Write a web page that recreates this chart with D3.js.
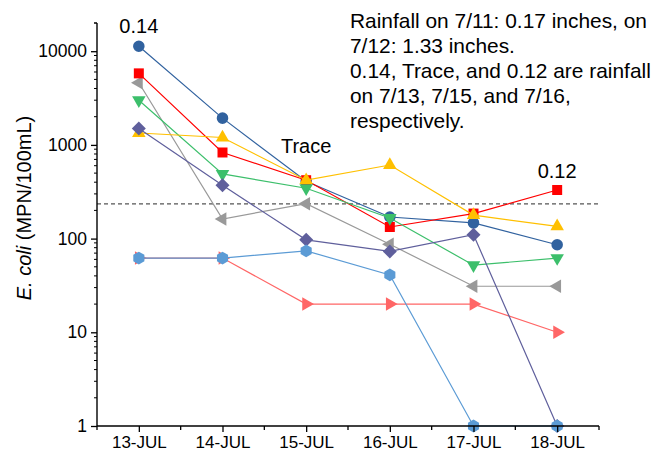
<!DOCTYPE html>
<html>
<head>
<meta charset="utf-8">
<script src="https://cdn.jsdelivr.net/npm/d3@7/dist/d3.min.js"></script>
<style>
  html, body { margin: 0; padding: 0; background: #fff; }
  svg { display: block; font-family: "Liberation Sans", Arial, sans-serif; }
</style>
</head>
<body>
<svg id="chart" width="658" height="455"></svg>
<script>
// Sampling dates
const dates = ["13-JUL", "14-JUL", "15-JUL", "16-JUL", "17-JUL", "18-JUL"];

// E. coli counts (MPN/100mL) per sampling site
const siteCircle   = [11300, 1930, 410, 170, 147, 86];
const siteSquare   = [5800, 830, 420, 133, 185, 330];
const siteTriUp    = [1340, 1200, 420, 610, 178, 135];
const siteTriDown  = [3000, 490, 345, 166, 52, 62];
const siteDiamond  = [1500, 370, 97, 73, 110, 1];
const siteTriLeft  = [4600, 162, 236, 87, 31, 31];
const siteHexagon  = [62, 62, 74, 41, 1, 1];
const siteTriRight = [62, 62, 20, 20, 20, 10];

// Recreational water quality threshold
const threshold = 235;

// Rainfall notes placed above certain dates
const rainDates  = ["13-JUL", "15-JUL", "18-JUL"];
const rainLabels = ["0.14", "Trace", "0.12"];
const rainLevels = [15600, 820, 443];

const noteLines = [
  "Rainfall on 7/11: 0.17 inches, on",
  "7/12: 1.33 inches.",
  "0.14, Trace, and 0.12 are rainfall",
  "on 7/13, 7/15, and 7/16,",
  "respectively."
];

const yMajorTicks = [1, 10, 100, 1000, 10000];

// drawing order: later series sit on top
const series = [
  { values: siteTriRight, color: "#ff6666", shape: "triRight" },
  { values: siteTriLeft,  color: "#999999", shape: "triLeft" },
  { values: siteCircle,   color: "#31629f", shape: "circle" },
  { values: siteSquare,   color: "#ff0000", shape: "square" },
  { values: siteTriDown,  color: "#3cbf6b", shape: "triDown" },
  { values: siteTriUp,    color: "#ffc000", shape: "triUp" },
  { values: siteDiamond,  color: "#5f5f9c", shape: "diamond" },
  { values: siteHexagon,  color: "#5b9bd5", shape: "hexagon" }
];

const svg = d3.select("#chart");
const plotLeft = 97, plotRight = 599, plotTop = 23, plotBottom = 426;

const x = d3.scalePoint().domain(dates).range([plotLeft, plotRight]).padding(0.5);
const y = d3.scaleLog().domain([1, 20000]).range([plotBottom, plotTop]);

// marker paths centred on the origin
function polygon(n, r, rot) {
  const pts = d3.range(n).map(i => {
    const a = rot + i * 2 * Math.PI / n;
    return [r * Math.cos(a), r * Math.sin(a)];
  });
  return "M" + pts.map(p => p.join(",")).join("L") + "Z";
}
const markerPath = {
  circle:   () => d3.symbol(d3.symbolCircle, 105)(),
  square:   () => "M-5,-5H5V5H-5Z",
  triUp:    () => polygon(3, 7.8, -Math.PI / 2),
  triDown:  () => polygon(3, 7.8, Math.PI / 2),
  triLeft:  () => polygon(3, 7.8, Math.PI),
  triRight: () => polygon(3, 7.8, 0),
  diamond:  () => "M0,-7L7,0L0,7L-7,0Z",
  hexagon:  () => polygon(6, 6.4, Math.PI / 6)
};

// threshold line
svg.append("line")
  .attr("x1", plotLeft).attr("x2", plotRight)
  .attr("y1", y(threshold)).attr("y2", y(threshold))
  .attr("stroke", "#555").attr("stroke-width", 1.3)
  .attr("stroke-dasharray", "4,3");

// series lines and markers
const line = d3.line().x((d, i) => x(dates[i])).y(d => y(d));
series.forEach(s => {
  const g = svg.append("g");
  g.append("path")
    .attr("d", line(s.values))
    .attr("fill", "none")
    .attr("stroke", s.color)
    .attr("stroke-width", 1.2);
  g.selectAll("path.m").data(s.values).join("path")
    .attr("class", "m")
    .attr("d", markerPath[s.shape]())
    .attr("transform", (d, i) => `translate(${x(dates[i])},${y(d)})`)
    .attr("fill", s.color);
});

// x axis
const xAxis = svg.append("g")
  .attr("transform", `translate(0,${plotBottom})`)
  .call(d3.axisBottom(x).tickSizeOuter(0).tickSize(6).tickPadding(4));
xAxis.select(".domain").attr("d", `M${plotLeft},0H${plotRight}`).attr("stroke-width", 1.4);
xAxis.selectAll(".tick line").attr("stroke-width", 1.3);
xAxis.selectAll(".tick text").attr("font-size", 17).attr("fill", "#000");
const halfStep = x.step() / 2;
const xMinor = dates.map(d => x(d) - halfStep).concat([x(dates[dates.length - 1]) + halfStep]);
xAxis.selectAll("line.minor").data(xMinor).join("line")
  .attr("class", "minor")
  .attr("x1", d => d).attr("x2", d => d)
  .attr("y1", 0).attr("y2", 4)
  .attr("stroke", "#000").attr("stroke-width", 1.3);

// y axis
const yAxis = svg.append("g")
  .attr("transform", `translate(${plotLeft},0)`)
  .call(d3.axisLeft(y).tickValues(yMajorTicks).tickFormat(d3.format("d"))
    .tickSize(6).tickSizeOuter(0).tickPadding(4));
yAxis.select(".domain").attr("d", `M0,${plotTop}V${plotBottom}`).attr("stroke-width", 1.4);
yAxis.selectAll(".tick line").attr("stroke-width", 1.3);
yAxis.selectAll(".tick text").attr("font-size", 17.5).attr("fill", "#000");
const yMinor = y.ticks().filter(v => !yMajorTicks.includes(v)).concat([20000]);
yAxis.selectAll("line.minor").data(yMinor).join("line")
  .attr("class", "minor")
  .attr("x1", -3).attr("x2", 0)
  .attr("y1", d => y(d)).attr("y2", d => y(d))
  .attr("stroke", "#000").attr("stroke-width", 1);

// y axis title
const yTitle = svg.append("text")
  .attr("transform", `translate(31,208) rotate(-90)`)
  .attr("text-anchor", "middle")
  .attr("font-size", 20)
  .attr("fill", "#000");
yTitle.append("tspan").attr("font-style", "italic").text("E. coli");
yTitle.append("tspan").text(" (MPN/100mL)");

// rainfall labels over dates
svg.selectAll("text.rain").data(rainLabels).join("text")
  .attr("class", "rain")
  .attr("x", (d, i) => x(rainDates[i]))
  .attr("y", (d, i) => y(rainLevels[i]))
  .attr("text-anchor", "middle")
  .attr("font-size", 20)
  .attr("fill", "#000")
  .text(d => d);

// rainfall note
svg.append("text")
  .attr("font-size", 20.9)
  .attr("fill", "#000")
  .selectAll("tspan").data(noteLines).join("tspan")
  .attr("x", 350)
  .attr("y", (d, i) => 28 + i * 25)
  .text(d => d);
</script>
</body>
</html>
